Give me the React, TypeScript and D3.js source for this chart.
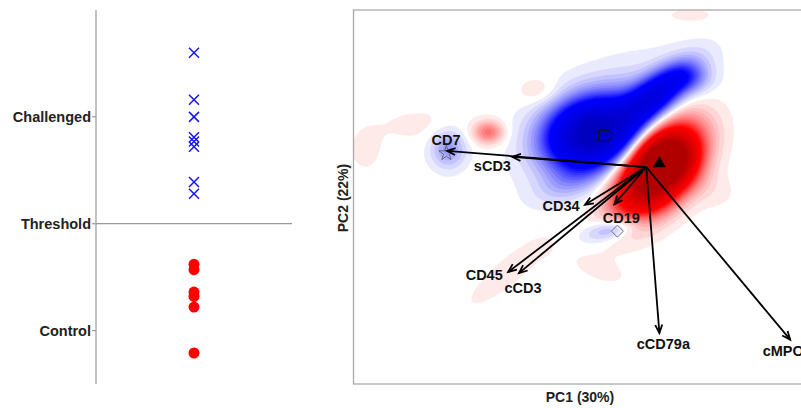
import React, { useEffect, useRef } from 'react';
import * as d3 from 'd3';

// left panel: score per sample, groups on the y axis
const groupLabels = ['Control', 'Threshold', 'Challenged'];
const groupScores = [-1, 0, 1];
const challengedScores = [1.6, 1.16, 1.0, 0.81, 0.77, 0.72, 0.39, 0.28];
const controlScores = [-0.38, -0.43, -0.64, -0.68, -0.78, -1.21];

// right panel: loadings (biplot arrows)
const markers = ['CD7', 'sCD3', 'CD34', 'CD19', 'CD45', 'cCD3', 'cCD79a', 'cMPO'];
const loadPC1 = [-3.32, -2.23, -1.02, -0.53, -2.3, -2.12, 0.22, 2.4];
const loadPC2 = [0.27, 0.17, -0.63, -0.62, -1.75, -1.77, -2.77, -2.88];

// group centroids
const centroidShapes = ['star', 'square', 'triangle', 'diamond'];
const centroidPC1 = [-3.33, -0.7, 0.22, -0.48];
const centroidPC2 = [0.23, 0.52, 0.08, -1.07];

// density difference blobs (challenged minus control)
const blobPC1 = [-0.93, 0.15, -0.6, -1.27, 0.73, 0.2, 0.37, -2.63, -3.3, -0.52, -2.27, -0.77, -3.77, -1.77, -4.68, 0.73, 0.9];
const blobPC2 = [0.57, 1.2, 0.68, -0.22, 1.48, -0.05, 0.15, 0.58, 0.3, -1.02, -1.72, -1.72, 0.7, 1.25, 0.28, 2.53, -0.3];
const blobS1 = [0.5, 0.5, 0.8, 0.4, 0.25, 0.55, 0.27, 0.17, 0.2, 0.33, 1.0, 0.5, 0.5, 0.25, 0.25, 0.42, 0.22];
const blobS2 = [0.37, 0.2, 0.48, 0.2, 0.17, 0.32, 0.23, 0.13, 0.22, 0.12, 0.25, 0.2, 0.22, 0.17, 0.33, 0.13, 0.4];
const blobAngle = [15, 38, 35, 25, 0, 50, 0, 0, 0, 15, 40, -20, 0, 0, 0, 0, 70];
const blobWeight = [-1.0, -0.65, -0.18, -0.1, -0.16, 1.5, 0.5, 0.25, -0.18, -0.2, 0.028, 0.025, 0.03, 0.06, 0.028, 0.028, 0.045];

// label offsets in px relative to arrow tips
const labelDx = [-1, -20, -24, 7, -24, 4, 4, -7];
const labelDy = [-6, 14, 6, 19, 8, 20, 16, 16];

const W = 801;
const H = 408;
const FONT = '"Liberation Sans", Arial, sans-serif';

function App() {
  const ref = useRef<SVGSVGElement>(null);

  useEffect(() => {
    const svg = d3.select(ref.current);
    svg.selectAll('*').remove();

    // ---------- left panel ----------
    const ly = d3.scaleLinear().domain([-1.5, 2]).range([384, 10]);
    const axX = 96;
    const left = svg.append('g');
    left.append('line').attr('x1', axX).attr('x2', axX).attr('y1', 10).attr('y2', 384)
      .attr('stroke', '#999').attr('stroke-width', 1.2);
    left.append('line').attr('x1', axX).attr('x2', 292).attr('y1', ly(0)).attr('y2', ly(0))
      .attr('stroke', '#999').attr('stroke-width', 1.2);
    groupScores.forEach((s, i) => {
      left.append('line').attr('x1', axX - 4).attr('x2', axX).attr('y1', ly(s)).attr('y2', ly(s))
        .attr('stroke', '#999').attr('stroke-width', 1.2);
      left.append('text').attr('x', axX - 5).attr('y', ly(s) + 5)
        .attr('text-anchor', 'end').attr('font-family', FONT).attr('font-weight', 'bold')
        .attr('font-size', 14.5).attr('fill', '#222').text(groupLabels[i]);
    });
    const mx = 194;
    challengedScores.forEach((s) => {
      const y = ly(s);
      left.append('path').attr('d', `M${mx - 5},${y - 5}L${mx + 5},${y + 5}M${mx - 5},${y + 5}L${mx + 5},${y - 5}`)
        .attr('stroke', '#1515ff').attr('stroke-width', 1.5).attr('fill', 'none');
    });
    controlScores.forEach((s) => {
      left.append('circle').attr('cx', mx).attr('cy', ly(s)).attr('r', 5.5).attr('fill', '#ff0000');
    });

    // ---------- right panel ----------
    const x0 = 354, x1 = 834, y0 = 10, y1 = 384;
    const x = d3.scaleLinear().domain([-4.87, 3.13]).range([x0, x1]);
    const y = d3.scaleLinear().domain([-3.62, 2.62]).range([y1, y0]);

    svg.append('clipPath').attr('id', 'plotclip').append('rect')
      .attr('x', x0).attr('y', y0).attr('width', x1 - x0).attr('height', y1 - y0);
    const plot = svg.append('g').attr('clip-path', 'url(#plotclip)');

    const cell = 2;
    const nx = Math.ceil((x1 - x0) / cell);
    const ny = Math.ceil((y1 - y0) / cell);
    const field = new Float64Array(nx * ny);
    const rad = blobAngle.map((a) => (a * Math.PI) / 180);
    for (let j = 0; j < ny; j++) {
      const py = y.invert(y0 + (j + 0.5) * cell);
      for (let i = 0; i < nx; i++) {
        const px = x.invert(x0 + (i + 0.5) * cell);
        let v = 0;
        for (let k = 0; k < blobPC1.length; k++) {
          const dx = px - blobPC1[k];
          const dy = py - blobPC2[k];
          const c = Math.cos(rad[k]), s = Math.sin(rad[k]);
          const u = (dx * c + dy * s) / blobS1[k];
          const w = (-dx * s + dy * c) / blobS2[k];
          v += blobWeight[k] * Math.exp(-0.5 * (u * u + w * w));
        }
        field[j * nx + i] = v;
      }
    }
    const neg = field.map((v) => -v);

    const redCol = d3.scaleLinear<string>().domain([0, 0.45, 1.1])
      .range(['#ffffff', '#ff0000', '#b00000']).clamp(true);
    const blueCol = d3.scaleLinear<string>().domain([0, 0.45, 1.1])
      .range(['#ffffff', '#0000ff', '#0000c0']).clamp(true);

    const path = d3.geoPath(d3.geoTransform({
      point(px: number, py: number) {
        this.stream.point(x0 + px * cell, y0 + py * cell);
      },
    }));
    const step = 0.035;
    const thresholds = d3.range(0.02, 1.6, step);
    const drawSet = (vals: Float64Array, col: (t: number) => string) => {
      const cs = d3.contours().size([nx, ny]).thresholds(thresholds)(Array.from(vals));
      plot.append('g').selectAll('path').data(cs).join('path')
        .attr('d', path as any)
        .attr('fill', (d) => col(d.value + step / 2))
        .attr('stroke', (d) => col(d.value + step / 2))
        .attr('stroke-width', 0.3);
    };
    drawSet(field, redCol);
    drawSet(neg, blueCol);

    // frame
    svg.append('rect').attr('x', x0 - 0.5).attr('y', y0).attr('width', x1 - x0).attr('height', y1 - y0)
      .attr('fill', 'none').attr('stroke', '#aaa').attr('stroke-width', 1.3);

    // centroid symbols
    const cg = plot.append('g');
    centroidShapes.forEach((shape, i) => {
      const cx = x(centroidPC1[i]);
      const cy = y(centroidPC2[i]);
      if (shape === 'star') {
        cg.append('path').attr('d', d3.symbol(d3.symbolStar, 70)()!)
          .attr('transform', `translate(${cx},${cy})`).attr('fill', 'none')
          .attr('stroke', '#555').attr('stroke-width', 0.8);
      } else if (shape === 'square') {
        cg.append('rect').attr('x', cx - 5.5).attr('y', cy - 5.5).attr('width', 11).attr('height', 11)
          .attr('fill', 'none').attr('stroke', '#111').attr('stroke-width', 1);
      } else if (shape === 'triangle') {
        cg.append('path').attr('d', `M${cx},${cy - 6}L${cx + 6.5},${cy + 5}L${cx - 6.5},${cy + 5}Z`)
          .attr('fill', '#000');
      } else {
        cg.append('path').attr('d', `M${cx},${cy - 6}L${cx + 6},${cy}L${cx},${cy + 6}L${cx - 6},${cy}Z`)
          .attr('fill', 'none').attr('stroke', '#555').attr('stroke-width', 0.8);
      }
    });

    // loading arrows
    const ag = plot.append('g');
    const ox = x(0), oy = y(0);
    markers.forEach((m, i) => {
      const tx = x(loadPC1[i]);
      const ty = y(loadPC2[i]);
      const ang = Math.atan2(ty - oy, tx - ox);
      const hl = 9, ha = 0.4;
      ag.append('line').attr('x1', ox).attr('y1', oy).attr('x2', tx).attr('y2', ty)
        .attr('stroke', '#000').attr('stroke-width', 1.8);
      ag.append('path')
        .attr('d', `M${tx - hl * Math.cos(ang - ha)},${ty - hl * Math.sin(ang - ha)}L${tx},${ty}L${tx - hl * Math.cos(ang + ha)},${ty - hl * Math.sin(ang + ha)}`)
        .attr('stroke', '#000').attr('stroke-width', 1.8).attr('fill', 'none');
      ag.append('text').attr('x', tx + labelDx[i]).attr('y', ty + labelDy[i])
        .attr('text-anchor', 'middle').attr('font-family', FONT).attr('font-weight', 'bold')
        .attr('font-size', 14.5).attr('fill', '#111').text(m);
    });

    // axis titles
    svg.append('text').attr('x', 580).attr('y', 402).attr('text-anchor', 'middle')
      .attr('font-family', FONT).attr('font-weight', 'bold').attr('font-size', 14).attr('fill', '#222')
      .text('PC1 (30%)');
    svg.append('text').attr('transform', 'translate(348,198) rotate(-90)').attr('text-anchor', 'middle')
      .attr('font-family', FONT).attr('font-weight', 'bold').attr('font-size', 14).attr('fill', '#222')
      .text('PC2 (22%)');
  }, []);

  return (
    <svg ref={ref} width={W} height={H} style={{ position: 'absolute', left: 0, top: 0, background: '#fff' }} />
  );
}

export default App;
